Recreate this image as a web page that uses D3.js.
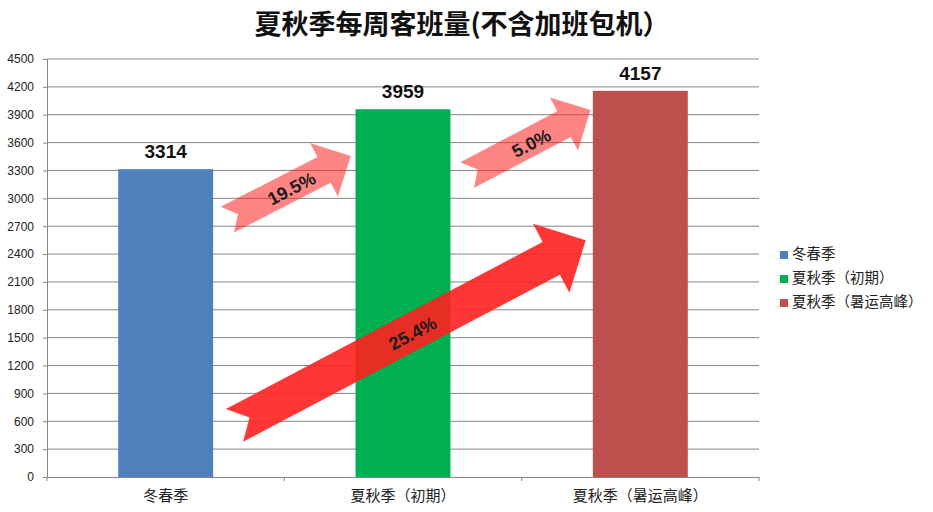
<!DOCTYPE html>
<html>
<head>
<meta charset="utf-8">
<script src="https://cdn.jsdelivr.net/npm/d3@7"></script>
<style>
  body { margin: 0; background: #fff; }
  svg { display: block; }
</style>
</head>
<body>
<div id="chart"></div>
<script>
// Data
const categories = ["冬春季", "夏秋季（初期）", "夏秋季（暑运高峰）"];
const values = [3314, 3959, 4157];
const colors = ["#4f81bd", "#00b050", "#c0504d"];
const yTicks = [0, 300, 600, 900, 1200, 1500, 1800, 2100, 2400, 2700, 3000, 3300, 3600, 3900, 4200, 4500];

// Growth arrows: start / end as [category index, value]
const arrowLabels = ["19.5%", "5.0%", "25.4%"];
const arrowFrom = [[0.26, 2770], [1.27, 3250], [0.29, 555]];
const arrowTo = [[0.78, 3455], [1.79, 3950], [1.77, 2550]];

const W = 933, H = 512;
const plot = { left: 47, right: 759, top: 59, bottom: 477 };

const svg = d3.select("#chart")
  .append("svg")
  .attr("width", W)
  .attr("height", H);

// Scales
const x = d3.scaleBand()
  .domain(categories)
  .range([plot.left, plot.right])
  .paddingInner(0.6)
  .paddingOuter(0.3);

const xBand = d3.scaleBand()
  .domain(categories)
  .range([plot.left, plot.right]);

const y = d3.scaleLinear()
  .domain([0, 4500])
  .range([plot.bottom, plot.top]);

// category index -> bar centre
const xi = d3.scaleLinear()
  .domain([0, 1])
  .range([x(categories[0]) + x.bandwidth() / 2, x(categories[1]) + x.bandwidth() / 2]);

// Title
svg.append("text")
  .attr("x", 462)
  .attr("y", 34)
  .attr("text-anchor", "middle")
  .style("font-family", "'Noto Sans CJK SC', sans-serif")
  .style("font-weight", "bold")
  .style("font-size", "27px")
  .style("fill", "#111")
  .text("夏秋季每周客班量(不含加班包机）");

// Gridlines
svg.append("g")
  .selectAll("line")
  .data(yTicks.filter(d => d > 0))
  .join("line")
  .attr("x1", plot.left)
  .attr("x2", plot.right)
  .attr("y1", d => y(d))
  .attr("y2", d => y(d))
  .attr("stroke", "#858585")
  .attr("stroke-width", 1);

// Y axis
const yAxis = svg.append("g")
  .attr("transform", `translate(${plot.left},0)`)
  .call(d3.axisLeft(y).tickValues(yTicks).tickSize(4).tickPadding(9).tickFormat(d3.format("d")));
yAxis.select(".domain").attr("stroke", "#858585");
yAxis.selectAll(".tick line").attr("stroke", "#858585");
yAxis.selectAll("text")
  .style("font-family", "'Liberation Sans', Arial, sans-serif")
  .style("font-size", "12px")
  .style("fill", "#222");

// Bars
svg.append("g")
  .selectAll("rect")
  .data(values)
  .join("rect")
  .attr("x", (d, i) => x(categories[i]))
  .attr("y", d => y(d))
  .attr("width", x.bandwidth())
  .attr("height", d => y(0) - y(d))
  .attr("fill", (d, i) => colors[i]);

// X axis
const xAxis = svg.append("g")
  .attr("transform", `translate(0,${plot.bottom})`)
  .call(d3.axisBottom(xBand).tickSize(0).tickPadding(13));
xAxis.select(".domain").attr("stroke", "#858585");
xAxis.selectAll("text")
  .style("font-family", "'Noto Sans CJK SC', sans-serif")
  .style("font-size", "15px")
  .style("fill", "#222");
xAxis.selectAll(".bound")
  .data(categories.map(c => xBand(c)).concat([plot.right]))
  .join("line")
  .attr("class", "bound")
  .attr("x1", d => d)
  .attr("x2", d => d)
  .attr("y1", 0)
  .attr("y2", 4)
  .attr("stroke", "#858585");

// Value labels
svg.append("g")
  .selectAll("text")
  .data(values)
  .join("text")
  .attr("x", (d, i) => x(categories[i]) + x.bandwidth() / 2)
  .attr("y", d => y(d) - 11)
  .attr("text-anchor", "middle")
  .style("font-family", "'Liberation Sans', Arial, sans-serif")
  .style("font-weight", "bold")
  .style("font-size", "19px")
  .style("fill", "#111")
  .text(d => d);

// Arrows
function arrowPath(len, w, hw, hl, notch) {
  const pts = [
    [0, -w / 2], [len - hl, -w / 2], [len - hl, -hw / 2], [len, 0],
    [len - hl, hw / 2], [len - hl, w / 2], [0, w / 2], [notch, 0]
  ];
  return "M" + pts.map(p => p.join(",")).join("L") + "Z";
}

const arrowData = arrowLabels.map((label, i) => {
  const x0 = xi(arrowFrom[i][0]), y0 = y(arrowFrom[i][1]);
  const x1 = xi(arrowTo[i][0]), y1 = y(arrowTo[i][1]);
  const big = i === 2;
  return {
    label, x0, y0,
    len: Math.hypot(x1 - x0, y1 - y0),
    angle: Math.atan2(y1 - y0, x1 - x0) * 180 / Math.PI,
    w: big ? 37 : 29,
    hw: big ? 78 : 60,
    hl: big ? 39 : 30,
    notch: big ? 17 : 12,
    opacity: big ? 0.9 : 0.55
  };
});

const arrows = svg.append("g")
  .selectAll("g")
  .data(arrowData)
  .join("g")
  .attr("transform", d => `translate(${d.x0},${d.y0}) rotate(${d.angle})`);

arrows.append("path")
  .attr("d", d => arrowPath(d.len, d.w, d.hw, d.hl, d.notch))
  .attr("fill", "#ff2020")
  .attr("fill-opacity", d => d.opacity);

arrows.append("text")
  .attr("x", d => d.len / 2 + 2)
  .attr("y", 8)
  .attr("text-anchor", "middle")
  .style("font-family", "'Liberation Sans', Arial, sans-serif")
  .style("font-weight", "bold")
  .style("font-size", "18px")
  .style("fill", "#1a1a1a")
  .text(d => d.label);

// Legend
const legend = svg.append("g")
  .attr("transform", "translate(780,251)")
  .selectAll("g")
  .data(categories)
  .join("g")
  .attr("transform", (d, i) => `translate(0,${i * 24})`);

legend.append("rect")
  .attr("width", 8)
  .attr("height", 8)
  .attr("fill", (d, i) => colors[i]);

legend.append("text")
  .attr("x", 12)
  .attr("y", 8)
  .style("font-family", "'Noto Sans CJK SC', sans-serif")
  .style("font-size", "14.5px")
  .style("fill", "#222")
  .text(d => d);
</script>
</body>
</html>
